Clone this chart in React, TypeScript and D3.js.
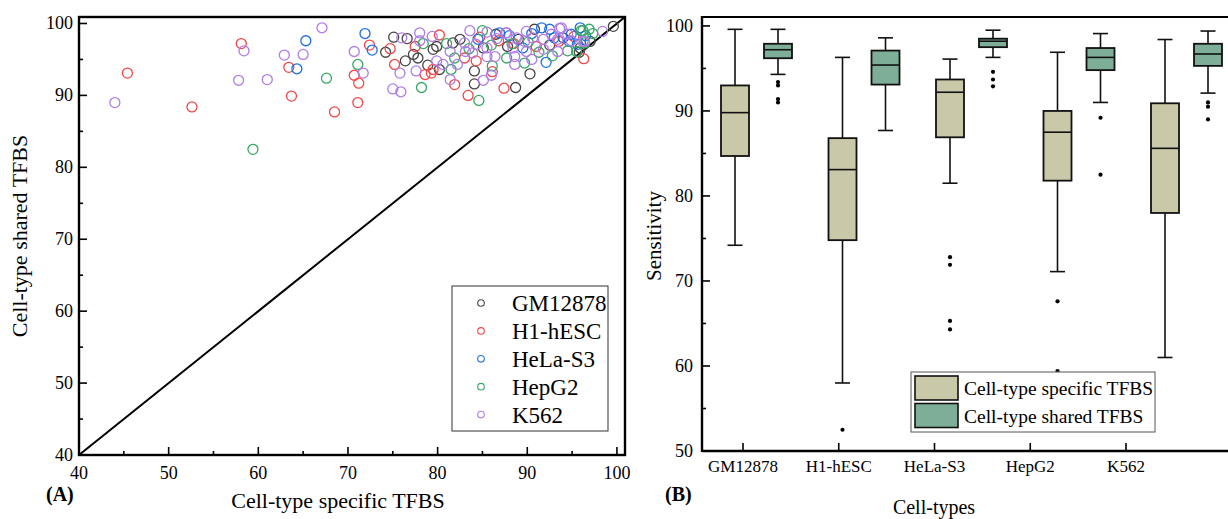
import { useEffect, useRef } from "react";
import * as d3 from "d3";

// ---- panel A: scatter (specific sensitivity vs shared sensitivity) ----
const cellTypes = ["GM12878", "H1-hESC", "HeLa-S3", "HepG2", "K562"];
const cellColors = ["#454545", "#f04848", "#1f6fe6", "#36a865", "#b07ce6"];

const gm12878Points = [
  [75.1, 98.1], [76.6, 97.9], [74.2, 96.0], [77.3, 95.7], [77.8, 95.2], [76.4, 94.8],
  [78.9, 94.2], [80.2, 93.6], [79.5, 96.4], [79.9, 96.8], [81.7, 97.3], [84.1, 93.4],
  [84.1, 91.6], [85.1, 96.6], [88.7, 91.1], [90.3, 93.0], [90.8, 99.2], [95.8, 96.0],
  [95.9, 96.6], [99.6, 99.6], [86.5, 98.5], [89.0, 97.8], [92.5, 97.0], [94.0, 98.0],
  [97.0, 97.5], [82.5, 97.8], [87.8, 96.8],
];
const h1hescPoints = [
  [45.4, 93.1], [52.6, 88.4], [58.1, 97.2], [63.4, 93.9], [63.7, 89.9], [68.5, 87.7],
  [70.7, 92.8], [71.2, 91.7], [71.1, 89.0], [72.4, 97.0], [74.7, 96.5], [75.2, 94.3],
  [77.5, 96.8], [78.6, 92.9], [79.3, 93.1], [79.5, 93.6], [80.2, 98.4], [81.9, 91.5],
  [83.0, 95.2], [83.4, 90.0], [84.3, 94.8], [84.7, 98.1], [86.1, 93.3], [87.4, 91.0],
  [96.3, 95.1], [88.5, 97.2], [91.0, 96.8], [93.5, 97.5], [95.2, 98.2], [86.8, 97.6],
];
const helaPoints = [
  [64.3, 93.7], [65.3, 97.6], [71.9, 98.6], [72.7, 96.3], [86.9, 98.7], [91.6, 99.4],
  [92.5, 99.2], [95.9, 99.4], [92.1, 94.6], [94.9, 98.5], [94.7, 97.5], [95.6, 97.1],
  [90.5, 98.6], [93.0, 98.0], [88.0, 98.3], [96.5, 98.3], [89.5, 96.6], [84.5, 97.8],
];
const hepg2Points = [
  [59.4, 82.5], [67.6, 92.4], [71.1, 94.3], [78.4, 97.2], [81.0, 97.2], [81.5, 93.6],
  [78.2, 91.1], [81.9, 95.2], [84.6, 89.3], [86.1, 94.1], [85.0, 99.0], [87.7, 95.2],
  [89.7, 94.5], [94.5, 96.2], [95.5, 96.1], [96.4, 97.3], [96.2, 99.0], [96.9, 99.2],
  [96.0, 99.0], [97.3, 98.6], [88.3, 97.2], [91.3, 96.0], [86.0, 97.0], [83.5, 96.5],
  [92.8, 95.5], [90.1, 97.4],
];
const k562Points = [
  [44.0, 89.0], [58.4, 96.2], [57.8, 92.1], [61.0, 92.2], [62.9, 95.6], [65.0, 95.7],
  [67.1, 99.4], [70.7, 96.1], [71.7, 93.1], [76.0, 98.0], [78.0, 98.7], [78.0, 97.6],
  [79.4, 98.2], [75.8, 93.1], [77.6, 93.4], [79.9, 94.8], [80.6, 94.3], [82.2, 94.3],
  [81.4, 96.1], [81.4, 92.2], [75.0, 90.9], [75.9, 90.5], [85.1, 92.1], [83.6, 99.0],
  [85.5, 98.8], [87.6, 98.7], [84.3, 97.1], [83.0, 97.3], [83.1, 96.1], [83.9, 95.9],
  [85.5, 96.6], [85.5, 95.4], [86.6, 97.9], [86.4, 95.4], [87.7, 98.7], [88.8, 98.0],
  [89.7, 97.5], [90.6, 98.0], [91.8, 97.8], [92.7, 98.5], [93.4, 97.8], [94.5, 98.5],
  [94.9, 97.6], [96.2, 97.5], [89.9, 98.9], [93.6, 99.3], [98.4, 98.9], [88.4, 96.6],
  [89.9, 96.1], [91.8, 96.4], [93.4, 96.1], [88.6, 95.4], [88.6, 94.3], [93.8, 99.4],
  [96.4, 97.5], [86.0, 92.8], [90.5, 95.0],
];
const scatterSeries = [gm12878Points, h1hescPoints, helaPoints, hepg2Points, k562Points];

// ---- panel B: box plots, [whiskerLow, q1, median, q3, whiskerHigh] ----
const specificStats = [
  [74.2, 84.7, 89.8, 93.0, 99.6],
  [58.0, 74.8, 83.1, 86.8, 96.3],
  [81.5, 86.9, 92.2, 93.7, 96.1],
  [71.1, 81.8, 87.5, 90.0, 96.9],
  [61.0, 78.0, 85.6, 90.9, 98.4],
];
const sharedStats = [
  [94.3, 96.2, 97.2, 97.9, 99.6],
  [87.7, 93.1, 95.4, 97.1, 98.6],
  [96.3, 97.5, 98.2, 98.5, 99.5],
  [91.0, 94.8, 96.3, 97.4, 99.1],
  [92.1, 95.3, 96.7, 97.9, 99.4],
];
const specificOutliers = [[], [52.5], [72.8, 71.9, 65.3, 64.3], [67.6, 59.4], []];
const sharedOutliers = [[93.4, 93.0, 91.4, 91.0], [], [94.6, 93.7, 92.9], [89.2, 82.5], [91.0, 90.5, 89.0]];
const boxLegend = ["Cell-type specific TFBS", "Cell-type shared TFBS"];
const boxFills = ["#c9c8a8", "#7fae98"];

const FONT = "'Liberation Serif', 'Times New Roman', serif";

export default function App() {
  const ref = useRef<SVGSVGElement | null>(null);

  useEffect(() => {
    if (!ref.current) return;
    const svg = d3.select(ref.current);
    svg.selectAll("*").remove();

    // ================= Panel A =================
    const x = d3.scaleLinear().domain([40, 100.9]).range([79, 625]);
    const y = d3.scaleLinear().domain([40, 100.9]).range([455, 17]);
    const a = svg.append("g");

    // diagonal y = x
    a.append("line")
      .attr("x1", x(40)).attr("y1", y(40))
      .attr("x2", x(100.9)).attr("y2", y(100.9))
      .attr("stroke", "#000").attr("stroke-width", 2);

    scatterSeries.forEach((pts, i) => {
      a.append("g")
        .selectAll("circle")
        .data(pts)
        .join("circle")
        .attr("cx", (d) => x(d[0]))
        .attr("cy", (d) => y(d[1]))
        .attr("r", 5)
        .attr("fill", "none")
        .attr("stroke", cellColors[i])
        .attr("stroke-width", 1.3);
    });

    // frame
    a.append("rect")
      .attr("x", x(40)).attr("y", y(100.9))
      .attr("width", x(100.9) - x(40)).attr("height", y(40) - y(100.9))
      .attr("fill", "none").attr("stroke", "#000").attr("stroke-width", 2.4);

    const majors = d3.range(40, 101, 10);
    const minors = d3.range(45, 100, 10);
    // ticks point inward
    a.selectAll(".xt").data(majors).join("line")
      .attr("x1", (d) => x(d)).attr("x2", (d) => x(d))
      .attr("y1", y(40)).attr("y2", y(40) - 8)
      .attr("stroke", "#000").attr("stroke-width", 1.6);
    a.selectAll(".xm").data(minors).join("line")
      .attr("x1", (d) => x(d)).attr("x2", (d) => x(d))
      .attr("y1", y(40)).attr("y2", y(40) - 4)
      .attr("stroke", "#000").attr("stroke-width", 1.6);
    a.selectAll(".yt").data(majors).join("line")
      .attr("x1", x(40)).attr("x2", x(40) + 8)
      .attr("y1", (d) => y(d)).attr("y2", (d) => y(d))
      .attr("stroke", "#000").attr("stroke-width", 1.6);
    a.selectAll(".ym").data(minors).join("line")
      .attr("x1", x(40)).attr("x2", x(40) + 4)
      .attr("y1", (d) => y(d)).attr("y2", (d) => y(d))
      .attr("stroke", "#000").attr("stroke-width", 1.6);

    a.selectAll(".xl").data(majors).join("text")
      .attr("x", (d) => x(d)).attr("y", 479)
      .attr("text-anchor", "middle")
      .attr("font-family", FONT).attr("font-size", 18)
      .text((d) => d);
    a.selectAll(".yl").data(majors).join("text")
      .attr("x", 73).attr("y", (d) => y(d) + 6)
      .attr("text-anchor", "end")
      .attr("font-family", FONT).attr("font-size", 18)
      .text((d) => d);

    a.append("text")
      .attr("x", 338).attr("y", 508)
      .attr("text-anchor", "middle")
      .attr("font-family", FONT).attr("font-size", 22)
      .text("Cell-type specific TFBS");
    a.append("text")
      .attr("transform", "translate(27,236) rotate(-90)")
      .attr("text-anchor", "middle")
      .attr("font-family", FONT).attr("font-size", 22)
      .text("Cell-type shared TFBS");
    a.append("text")
      .attr("x", 46).attr("y", 501)
      .attr("font-family", FONT).attr("font-size", 20).attr("font-weight", "bold")
      .text("(A)");

    // legend A
    const la = a.append("g");
    la.append("rect")
      .attr("x", 452).attr("y", 286).attr("width", 156).attr("height", 145)
      .attr("fill", "#fff").attr("stroke", "#333").attr("stroke-width", 1);
    cellTypes.forEach((name, i) => {
      const cy = 303 + i * 27.9;
      la.append("circle")
        .attr("cx", 481).attr("cy", cy).attr("r", 3.3)
        .attr("fill", "none").attr("stroke", cellColors[i]).attr("stroke-width", 1.1);
      la.append("text")
        .attr("x", 512).attr("y", cy + 8)
        .attr("font-family", FONT).attr("font-size", 23)
        .text(name);
    });

    // ================= Panel B =================
    const yb = d3.scaleLinear().domain([50, 101.05]).range([451, 17]);
    const boxPos = d3.scalePoint().domain(cellTypes).range([735, 1165]);
    const tickPos = d3.scalePoint().domain(cellTypes).range([743, 1126]);
    const sharedOffset = 43;
    const boxW = 28;
    const capW = 15;
    const b = svg.append("g");
    const left = 702;
    const right = 1228;

    const drawBox = (cx: number, s: number[], fill: string, outs: number[]) => {
      const g = b.append("g");
      g.append("line")
        .attr("x1", cx).attr("x2", cx).attr("y1", yb(s[0])).attr("y2", yb(s[4]))
        .attr("stroke", "#111").attr("stroke-width", 1.6);
      [s[0], s[4]].forEach((v) => {
        g.append("line")
          .attr("x1", cx - capW / 2).attr("x2", cx + capW / 2)
          .attr("y1", yb(v)).attr("y2", yb(v))
          .attr("stroke", "#111").attr("stroke-width", 1.6);
      });
      g.append("rect")
        .attr("x", cx - boxW / 2).attr("y", yb(s[3]))
        .attr("width", boxW).attr("height", yb(s[1]) - yb(s[3]))
        .attr("fill", fill).attr("stroke", "#111").attr("stroke-width", 1.8);
      g.append("line")
        .attr("x1", cx - boxW / 2).attr("x2", cx + boxW / 2)
        .attr("y1", yb(s[2])).attr("y2", yb(s[2]))
        .attr("stroke", "#111").attr("stroke-width", 1.6);
      g.selectAll("circle").data(outs).join("circle")
        .attr("cx", cx).attr("cy", (d) => yb(d)).attr("r", 2.1).attr("fill", "#000");
    };

    cellTypes.forEach((c, i) => {
      const cx = boxPos(c) as number;
      drawBox(cx, specificStats[i], boxFills[0], specificOutliers[i]);
      drawBox(cx + sharedOffset, sharedStats[i], boxFills[1], sharedOutliers[i]);
    });

    // axes frame
    b.append("line").attr("x1", left).attr("x2", right).attr("y1", 17).attr("y2", 17)
      .attr("stroke", "#000").attr("stroke-width", 2);
    b.append("line").attr("x1", left).attr("x2", right).attr("y1", 451).attr("y2", 451)
      .attr("stroke", "#000").attr("stroke-width", 2.4);
    b.append("line").attr("x1", left).attr("x2", left).attr("y1", 16).attr("y2", 452)
      .attr("stroke", "#000").attr("stroke-width", 2.4);

    const bMajors = d3.range(50, 101, 10);
    const bMinors = d3.range(55, 100, 10);
    b.selectAll(".byt").data(bMajors).join("line")
      .attr("x1", left).attr("x2", left + 8)
      .attr("y1", (d) => yb(d)).attr("y2", (d) => yb(d))
      .attr("stroke", "#000").attr("stroke-width", 1.6);
    b.selectAll(".bym").data(bMinors).join("line")
      .attr("x1", left).attr("x2", left + 4)
      .attr("y1", (d) => yb(d)).attr("y2", (d) => yb(d))
      .attr("stroke", "#000").attr("stroke-width", 1.6);
    b.selectAll(".byl").data(bMajors).join("text")
      .attr("x", 693).attr("y", (d) => yb(d) + 6)
      .attr("text-anchor", "end")
      .attr("font-family", FONT).attr("font-size", 18)
      .text((d) => d);
    b.selectAll(".bxt").data(cellTypes).join("line")
      .attr("x1", (d) => tickPos(d) as number).attr("x2", (d) => tickPos(d) as number)
      .attr("y1", 451).attr("y2", 443)
      .attr("stroke", "#000").attr("stroke-width", 1.6);
    b.selectAll(".bxl").data(cellTypes).join("text")
      .attr("x", (d) => tickPos(d) as number).attr("y", 472)
      .attr("text-anchor", "middle")
      .attr("font-family", FONT).attr("font-size", 17)
      .text((d) => d);

    b.append("text")
      .attr("x", 934).attr("y", 514)
      .attr("text-anchor", "middle")
      .attr("font-family", FONT).attr("font-size", 20)
      .text("Cell-types");
    b.append("text")
      .attr("transform", "translate(661,236) rotate(-90)")
      .attr("text-anchor", "middle")
      .attr("font-family", FONT).attr("font-size", 21)
      .text("Sensitivity");
    b.append("text")
      .attr("x", 665).attr("y", 501)
      .attr("font-family", FONT).attr("font-size", 20).attr("font-weight", "bold")
      .text("(B)");

    // legend B
    const lb = b.append("g");
    lb.append("rect")
      .attr("x", 911).attr("y", 372).attr("width", 244).attr("height", 60)
      .attr("fill", "#fff").attr("stroke", "#555").attr("stroke-width", 1);
    boxLegend.forEach((name, i) => {
      const top = 376 + i * 27.5;
      lb.append("rect")
        .attr("x", 915).attr("y", top).attr("width", 43).attr("height", 24)
        .attr("fill", boxFills[i]).attr("stroke", "#111").attr("stroke-width", 1.6);
      lb.append("text")
        .attr("x", 964).attr("y", top + 19)
        .attr("font-family", FONT).attr("font-size", 19.5)
        .text(name);
    });
  }, []);

  return (
    <svg
      ref={ref}
      width={1228}
      height={519}
      style={{ position: "absolute", left: 0, top: 0, background: "#fff" }}
    />
  );
}
